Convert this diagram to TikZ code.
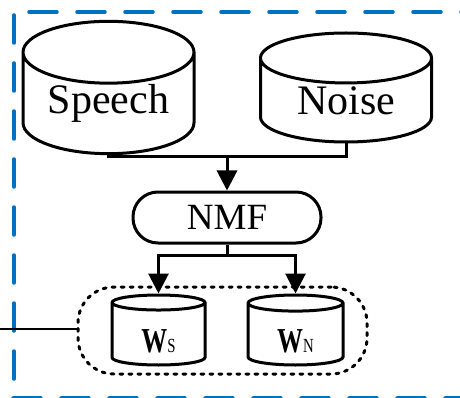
\documentclass[tikz,border=0pt]{standalone}
\usepackage{fontspec}
\usepackage{graphicx}
\setmainfont{Liberation Serif}
\usetikzlibrary{shapes.geometric,arrows.meta}
\definecolor{frameblue}{RGB}{0,112,192}
\newcommand{\wvec}[1]{\raisebox{-18pt}[0pt][0pt]{\scalebox{0.74}[1]{\fontsize{35}{40}\selectfont\textbf{W}\fontsize{20}{22}\selectfont #1}}}
\begin{document}
\begin{tikzpicture}[x=1pt,y=-1pt,
  db/.style={cylinder, shape border rotate=90, draw, line width=3pt, aspect=0.51, inner sep=0pt,
    minimum width=171pt, minimum height=109pt, font=\fontsize{42}{46}\selectfont},
  small db/.style={db, aspect=0.44, minimum width=93pt, minimum height=70pt},
  proc/.style={draw, line width=3pt, rounded corners=25pt, minimum width=188pt, minimum height=51pt,
    inner sep=0pt, font=\fontsize{37}{40}\selectfont},
  group/.style={draw, line width=3pt, line cap=round, dash pattern=on 3pt off 6pt, rounded corners=36pt,
    minimum width=289pt, minimum height=87pt},
  link/.style={line width=3pt},
  arr/.style={link, -{Triangle[length=20pt,width=20pt]}},
  frame/.style={frameblue, line width=3.5pt, line cap=round, dash pattern=on 28pt off 20pt}]
\useasboundingbox (0,0) rectangle (460,398);
% blue frame
\draw[frame] (29,12) -- (470,12);
\draw[frame] (14,15) -- (14,398);
\draw[frame] (13,397.5) -- (470,397.5);
% databases
\node[db, anchor=shape center] (speech) at (108.5,87.5) {Speech};
\node[db, anchor=shape center] (noise) at (346,87.5) {Noise};
\node[proc] (nmf) at (227,217.5) {NMF};
\node[group] (dict) at (222.5,330.5) {};
\node[small db, anchor=shape center] (ws) at (158.5,330) {\wvec{S}};
\node[small db, anchor=shape center, minimum width=95pt] (wn) at (295.5,330) {\wvec{N}};
% connectors
\coordinate (merge) at (227,157);
\coordinate (fork) at (227,255);
\coordinate (out) at (0,329);
\draw[link] (speech.south) |- (merge) -| (noise.south);
\draw[arr] (merge) -- (nmf.north);
\draw[link] (nmf.south) -- (fork);
\draw[arr] (fork) -| (ws.north);
\draw[arr] (fork) -| (wn.north);
\draw[line width=2pt] (dict.west |- out) -- (out);
\end{tikzpicture}
\end{document}
